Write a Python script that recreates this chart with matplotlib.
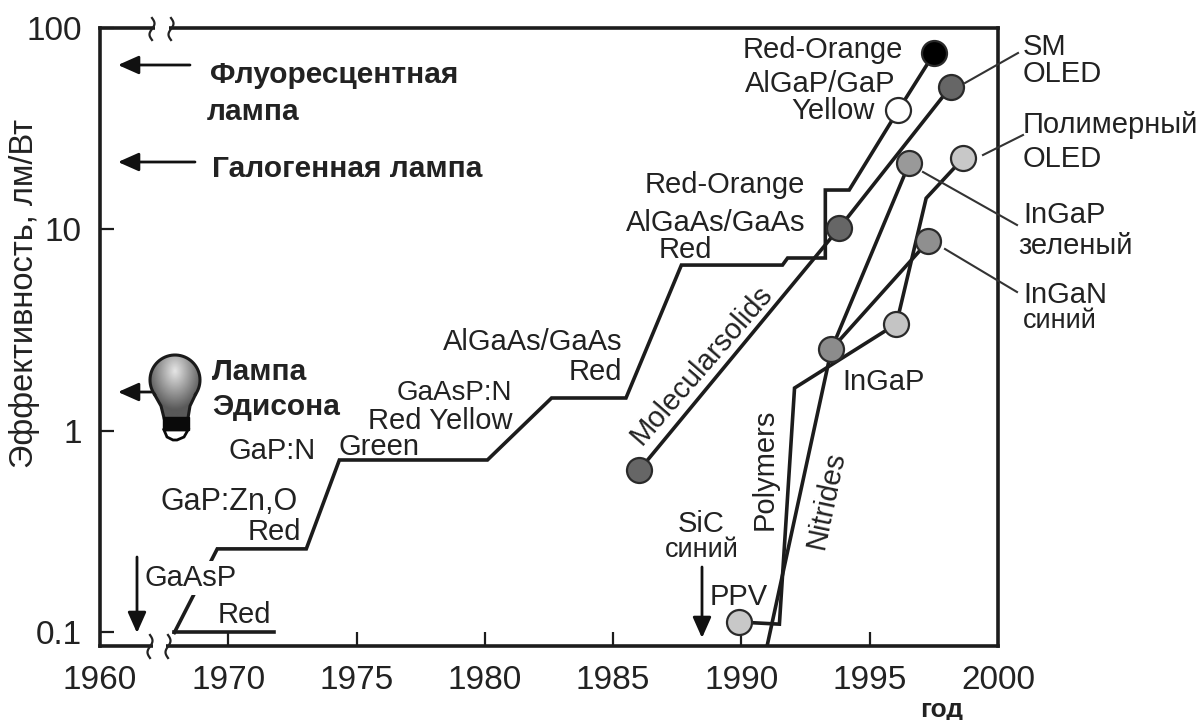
import numpy as np
import matplotlib
matplotlib.use("Agg")
import matplotlib.pyplot as plt
from matplotlib.patches import Circle, Polygon, Rectangle

plt.rcParams['font.family'] = ['Liberation Sans', 'DejaVu Sans']

# ---- data (year, lm/W) ----
main_years = [1967.9, 1969.57, 1973.04, 1974.33, 1980.1, 1982.6, 1985.5, 1987.66,
              1991.6, 1991.8, 1993.27, 1993.27, 1994.2, 1996.12, 1997.52]
main_eff = [0.10, 0.26, 0.26, 0.718, 0.718, 1.458, 1.458, 6.66,
            6.66, 7.22, 7.22, 15.7, 15.7, 39.2, 75.2]
red_years = [1967.9, 1971.8]
red_eff = [0.10, 0.10]
mol_years = [1986.02, 1993.82, 1998.15]
mol_eff = [0.64, 10.2, 51.0]
nitride_years = [1991.0, 1993.51, 1996.55]
nitride_eff = [0.0857, 2.55, 21.4]
ingan_years = [1993.51, 1997.29]
ingan_eff = [2.55, 8.77]
poly_years = [1989.92, 1991.48, 1992.07, 1996.04, 1997.2, 1998.65]
poly_eff = [0.1127, 0.11, 1.634, 3.4, 14.3, 22.6]

point_years = [1997.52, 1996.12, 1998.15, 1993.82, 1986.02, 1996.55, 1998.65, 1997.29, 1996.04, 1993.51, 1989.92]
point_eff = [75.2, 39.2, 51.0, 10.2, 0.64, 21.4, 22.6, 8.77, 3.4, 2.55, 0.1127]
point_fill = ['#000000', '#ffffff', '#666666', '#666666', '#666666', '#999999', '#c8c8c8', '#8f8f8f', '#c4c4c4', '#8c8c8c', '#c8c8c8']

x_ticks = [1965, 1970, 1975, 1980, 1985, 1990, 1995, 2000]
x_labels = ['1960', '1970', '1975', '1980', '1985', '1990', '1995', '2000']
y_ticks = [0.1, 1, 10, 100]
y_labels = ['0.1', '1', '10', '100']

W, H = 1201, 720
fig = plt.figure(figsize=(W / 100, H / 100), dpi=100, facecolor='white')
L, R, T, B = 100, 998, 28, 646
ax = fig.add_axes([L / W, 1 - B / H, (R - L) / W, (B - T) / H])
ax.set_xlim(1965, 2000)
ax.set_yscale('log')
ax.set_ylim(0.0857, 100)
for s in ax.spines.values():
    s.set_linewidth(2.6)
    s.set_color('#1c1c1c')
ax.set_xticks(x_ticks, x_labels)
ax.set_yticks(y_ticks, y_labels)
ax.minorticks_off()
ax.tick_params(axis='both', direction='in', length=10, width=1.6, labelsize=24,
               color='#1c1c1c', labelcolor='#222222')
ax.tick_params(axis='x', pad=14)
ax.tick_params(axis='y', pad=13)
xt = ax.xaxis.get_major_ticks()
xt[0].tick1line.set_visible(False)
xt[-1].tick1line.set_visible(False)

lw = 2.6
col = '#1c1c1c'
for xs, ys in [(main_years, main_eff), (red_years, red_eff), (mol_years, mol_eff),
               (nitride_years, nitride_eff), (ingan_years, ingan_eff), (poly_years, poly_eff)]:
    ax.plot(xs, ys, color=col, lw=lw, solid_joinstyle='miter', clip_on=True, zorder=3)
for xv, yv, f in zip(point_years, point_eff, point_fill):
    ax.plot([xv], [yv], 'o', ms=18, mfc=f, mec='#2a2a2a', mew=1.6, zorder=4)

# overlay in picture pixels for annotations, labels and the lamp
ov = fig.add_axes([0, 0, 1, 1], facecolor='none')
ov.set_axis_off()

def t(x, y, s, ha='left', size=21, weight='normal', rot=0, **kw):
    ov.text(x, y + 2, s, ha=ha, va='center', fontsize=size, fontweight=weight, rotation=rot,
            color='#222222', rotation_mode='anchor', **kw)

# Labels over the lines
t(145, 576, 'GaAsP', bbox=dict(fc='white', ec='none', pad=2))
t(218, 613, 'Red')
t(160, 500, 'GaP:Zn,O', size=22)
t(301, 530, 'Red', ha='right')
t(228, 449, 'GaP:N')
t(338, 445, 'Green')
t(512, 419, 'Red Yellow', ha='right')
t(512, 391, 'GaAsP:N', ha='right', size=20)
t(622, 340, 'AlGaAs/GaAs', ha='right')
t(622, 370, 'Red', ha='right')
t(805, 183, 'Red-Orange', ha='right')
t(805, 221, 'AlGaAs/GaAs', ha='right')
t(712, 248, 'Red', ha='right')
t(903, 48, 'Red-Orange', ha='right')
t(895, 82, 'AlGaP/GaP', ha='right')
t(875, 109, 'Yellow', ha='right')
t(1023, 45, 'SM')
t(1023, 72, 'OLED')
t(1023, 123, 'Полимерный', size=21)
t(1023, 157, 'OLED')
t(1023, 213, 'InGaP')
t(1018, 244, 'зеленый', size=21)
t(1023, 293, 'InGaN')
t(1023, 319, 'синий', size=19.5)
t(842, 380, 'InGaP')
t(702, 363, 'Molecularsolids', ha='center', rot=49)
t(765, 467, 'Polymers', ha='center', rot=90)
t(826, 498, 'Nitrides', ha='center', rot=78)
t(701, 522, 'SiC', ha='center')
t(702, 548, 'синий', ha='center', size=19.5)
t(710, 595, 'PPV')
t(210, 73, 'Флуоресцентная', size=21.5, weight='bold')
t(207, 110, 'лампа', size=21.5, weight='bold')
t(212, 167, 'Галогенная лампа', size=21.5, weight='bold')
t(212, 370, 'Лампа', size=21.5, weight='bold')
t(212, 405, 'Эдисона', size=21.5, weight='bold')
t(942, 708, 'год', ha='center', size=19, weight='bold')
t(25, 291, 'Эффективность, лм/Вт', ha='center', size=23.5, rot=90)

# Leader lines
for a, b in [((965, 83), (1018, 53)), ((983, 155), (1023, 135)),
             ((923, 172), (1017, 225)), ((945, 249), (1017, 292))]:
    ov.plot([a[0], b[0]], [a[1], b[1]], color='#333333', lw=1.5)

# Arrows
for a, b in [((190, 65), (118, 65)), ((195, 162), (118, 162)), ((152, 392), (118, 392)),
             ((137, 557), (137, 633)), ((702, 567), (702, 638))]:
    ov.annotate('', xy=b, xytext=a,
                arrowprops=dict(arrowstyle='-|>,head_length=0.9,head_width=0.4', color='#111111',
                                lw=2, shrinkA=0, shrinkB=0, mutation_scale=14))

# Axis breaks
for (x0, y0, y1) in [(152, 18, 40), (171, 18, 40), (150, 635, 658), (168, 635, 658)]:
    yy = np.linspace(y0, y1, 30)
    xx = x0 + 2.5 * np.sin((yy - y0) / (y1 - y0) * 2 * np.pi)
    ov.plot(xx, yy, color='#222222', lw=1.6, zorder=6)
ov.add_patch(Rectangle((155, 26), 14, 5, fc='white', ec='none', zorder=5))
ov.add_patch(Rectangle((153, 643), 13, 6, fc='white', ec='none', zorder=5))

# Edison lamp
bx, by = np.meshgrid(np.linspace(-1, 1, 80), np.linspace(-1, 1, 100))
shade = 0.9 - 0.55 * np.clip(np.hypot(bx * 0.9, (by + 0.55) * 0.9), 0, 1)
outline = Polygon([(152, 392), (160, 404), (165, 420), (187, 420), (190, 404), (198, 392)],
                  closed=True, fc='none', ec='none')
head = Circle((175, 380), 25, fc='none', ec='none')
ov.add_patch(outline)
ov.add_patch(head)
im1 = ov.imshow(shade, extent=(150, 200, 425, 355), cmap='gray', vmin=0, vmax=1, aspect='auto', zorder=5)
im1.set_clip_path(head)
im2 = ov.imshow(shade, extent=(150, 200, 425, 355), cmap='gray', vmin=0, vmax=1, aspect='auto', zorder=5)
im2.set_clip_path(outline)
theta = np.linspace(np.radians(-215), np.radians(35), 50)
ov.plot(175 + 25 * np.cos(theta), 380 + 25 * np.sin(theta), color='#1a1a1a', lw=2.2, zorder=6)
ov.plot([154.5, 161, 164], [394.5, 406, 418], color='#1a1a1a', lw=2.2, zorder=6)
ov.plot([195.5, 190, 188], [394.5, 406, 418], color='#1a1a1a', lw=2.2, zorder=6)
ov.add_patch(Polygon([(163, 417), (189, 417), (189, 430), (163, 430)],
                     closed=True, fc='#0a0a0a', ec='#0a0a0a', zorder=6))
ov.add_patch(Polygon([(164, 430), (188, 430), (184, 437), (177, 440), (173, 440), (167, 437)], closed=True,
                     fc='white', ec='#0a0a0a', lw=2, zorder=6))

ov.set_xlim(0, W)
ov.set_ylim(H, 0)
fig.savefig('out.png', dpi=100)
